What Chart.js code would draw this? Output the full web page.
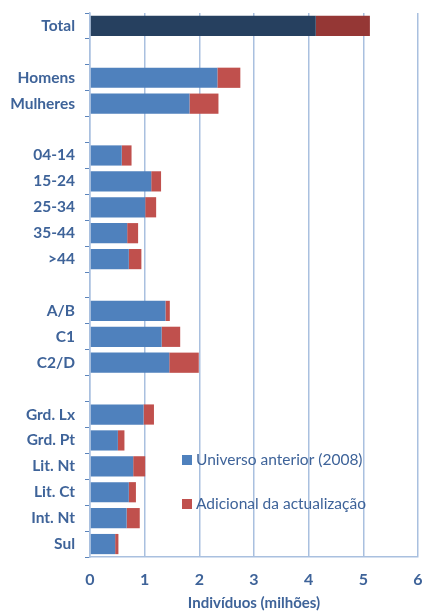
<!DOCTYPE html>
<html>
<head>
<meta charset="utf-8">
<script src="https://cdn.jsdelivr.net/npm/chart.js@4.4.1/dist/chart.umd.min.js"></script>
<style>
    html, body { margin: 0; padding: 0; background: #ffffff; }
    #wrap { width: 422px; height: 612px; }
</style>
</head>
<body>
<div id="wrap"><canvas id="chart" width="422" height="612"></canvas></div>
<script>
// Categories (blank strings are the gaps between groups)
const categories = ['Total', '', 'Homens', 'Mulheres', '', '04-14', '15-24', '25-34', '35-44', '>44', '',
    'A/B', 'C1', 'C2/D', '', 'Grd. Lx', 'Grd. Pt', 'Lit. Nt', 'Lit. Ct', 'Int. Nt', 'Sul'];

// Universo anterior (2008), milhões
const universoAnterior = [4.13, null, 2.33, 1.82, null, 0.58, 1.12, 1.01, 0.68, 0.71, null,
    1.38, 1.31, 1.45, null, 0.98, 0.51, 0.79, 0.71, 0.67, 0.46];

// Adicional da actualização, milhões
const adicional = [0.99, null, 0.42, 0.53, null, 0.18, 0.18, 0.20, 0.20, 0.23, null,
    0.08, 0.34, 0.54, null, 0.19, 0.12, 0.22, 0.13, 0.24, 0.06];

const xTicks = [0, 1, 2, 3, 4, 5, 6];
const seriesNames = ['Universo anterior (2008)', 'Adicional da actualização'];

const textBlue = '#3E6399';
const gridBlue = '#A9C0DF';
const blue = '#4F81BD', red = '#C0504D';
const navy = '#26405F', darkRed = '#953735';

const blueColors = categories.map(c => c === 'Total' ? navy : blue);
const redColors = categories.map(c => c === 'Total' ? darkRed : red);

// legend drawn inside the plot area
const innerLegend = {
    id: 'innerLegend',
    afterDraw(chart) {
        const { ctx, chartArea } = chart;
        const items = [
            { label: seriesNames[0], color: blue, y: chartArea.bottom - 97 },
            { label: seriesNames[1], color: red, y: chartArea.bottom - 53 }
        ];
        const x0 = chartArea.left + 92;
        ctx.save();
        ctx.font = '15.5px Lato';
        ctx.textBaseline = 'middle';
        ctx.textAlign = 'left';
        items.forEach(it => {
            ctx.fillStyle = it.color;
            ctx.fillRect(x0, it.y - 5, 10, 10);
            ctx.fillStyle = textBlue;
            ctx.fillText(it.label, x0 + 14, it.y);
        });
        ctx.restore();
    }
};

new Chart(document.getElementById('chart').getContext('2d'), {
    type: 'bar',
    data: {
        labels: categories,
        datasets: [
            {
                label: seriesNames[0],
                data: universoAnterior,
                backgroundColor: blueColors,
                barPercentage: 0.78,
                categoryPercentage: 1
            },
            {
                label: seriesNames[1],
                data: adicional,
                backgroundColor: redColors,
                barPercentage: 0.78,
                categoryPercentage: 1
            }
        ]
    },
    options: {
        indexAxis: 'y',
        responsive: false,
        animation: false,
        layout: { padding: { top: 13, right: 4, left: 0, bottom: 0 } },
        plugins: {
            legend: { display: false },
            tooltip: { enabled: false }
        },
        scales: {
            x: {
                stacked: true,
                min: 0,
                max: 6,
                afterBuildTicks: (scale) => { scale.ticks = xTicks.map(v => ({ value: v })); },
                grid: { color: gridBlue, lineWidth: 1.5, drawTicks: false },
                border: { color: gridBlue, width: 1.5 },
                ticks: {
                    color: textBlue,
                    padding: 13,
                    font: { family: 'Lato', size: 16, weight: 'bold' }
                },
                title: {
                    display: true,
                    text: 'Indivíduos (milhões)',
                    color: textBlue,
                    padding: { top: 6, bottom: 0 },
                    font: { family: 'Lato', size: 15, weight: 'bold' }
                },
                afterFit: (scale) => {
                    scale.height = 55;
                    scale.paddingLeft = 0;
                    scale.paddingRight = 0;
                }
            },
            y: {
                stacked: true,
                grid: {
                    offset: true,
                    drawOnChartArea: false,
                    drawTicks: true,
                    tickLength: 5,
                    color: '#5B84BB'
                },
                border: { color: gridBlue, width: 1.5 },
                ticks: {
                    color: textBlue,
                    padding: 10,
                    autoSkip: false,
                    font: { family: 'Lato', size: 15.5, weight: 'bold' }
                },
                afterFit: (scale) => {
                    scale.width = 90;
                    scale.paddingTop = 0;
                    scale.paddingBottom = 0;
                }
            }
        }
    },
    plugins: [innerLegend]
});
</script>
</body>
</html>
